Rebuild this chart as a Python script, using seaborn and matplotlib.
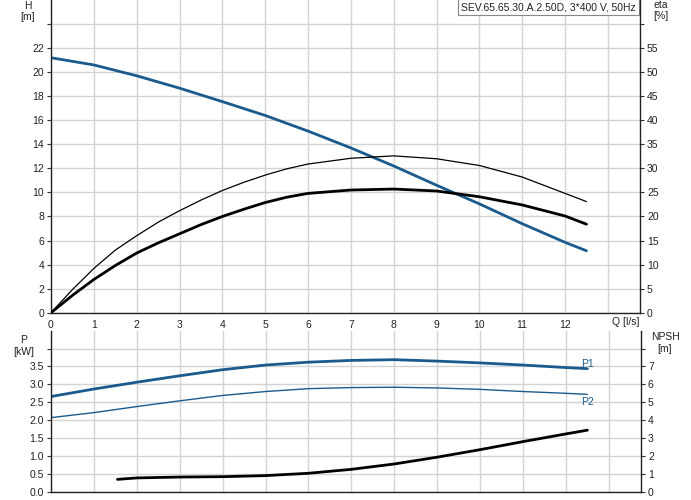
import matplotlib
matplotlib.use("Agg")
import matplotlib.pyplot as plt
import seaborn as sns
import pandas as pd

# ---- data ----
q = [0, 1, 2, 3, 4, 5, 6, 7, 8, 9, 10, 11, 12, 12.5]
head = [21.2, 20.6, 19.7, 18.67, 17.55, 16.4, 15.1, 13.7, 12.2, 10.6, 9.05, 7.4, 5.85, 5.15]
q_eta = [0, 0.5, 1, 1.5, 2, 2.5, 3, 3.5, 4, 4.5, 5, 5.5, 6, 7, 8, 9, 10, 11, 12, 12.5]
eta_thin = [0, 4.8, 9.2, 13.0, 16.0, 18.8, 21.2, 23.4, 25.4, 27.1, 28.6, 29.9, 30.9,
            32.1, 32.6, 32.0, 30.6, 28.2, 24.8, 23.1]
eta_thick = [0, 3.6, 6.9, 9.8, 12.4, 14.5, 16.4, 18.3, 20.0, 21.5, 22.9, 24.0, 24.8,
             25.5, 25.7, 25.3, 24.1, 22.4, 20.1, 18.4]
p1 = [2.66, 2.87, 3.06, 3.24, 3.41, 3.54, 3.62, 3.67, 3.69, 3.65, 3.60, 3.54, 3.47, 3.44]
p2 = [2.07, 2.21, 2.38, 2.54, 2.69, 2.80, 2.88, 2.91, 2.92, 2.90, 2.86, 2.80, 2.75, 2.72]
q_npsh = [1.55, 2, 3, 4, 5, 6, 7, 8, 9, 10, 11, 12, 12.5]
npsh = [0.69, 0.77, 0.82, 0.84, 0.90, 1.03, 1.25, 1.55, 1.93, 2.35, 2.80, 3.23, 3.44]

title = "SEV.65.65.30.A.2.50D, 3*400 V, 50Hz"
h_ticks = list(range(0, 25, 2))
h_labels = [str(v) for v in range(0, 23, 2)] + [""]
eta_ticks = list(range(0, 61, 5))
eta_labels = [str(v) for v in range(0, 56, 5)] + [""]
p_ticks = [0.0, 0.5, 1.0, 1.5, 2.0, 2.5, 3.0, 3.5, 4.0]
p_labels = ["0.0", "0.5", "1.0", "1.5", "2.0", "2.5", "3.0", "3.5", ""]
n_ticks = list(range(0, 9))
n_labels = [str(v) for v in range(0, 8)] + [""]
q_ticks = list(range(0, 14))
q_labels = [str(v) for v in range(0, 13)] + [""]

BLUE = "#1b5a8c"
GRID = "#d3d3d3"
FS = 7.5

sns.set_theme(style="white")
plt.rcParams["font.family"] = ["Liberation Sans", "DejaVu Sans"]

df_h = pd.DataFrame({"Q": q, "H": head})
df_eta = pd.DataFrame({"Q": q_eta, "eta_thin": eta_thin, "eta_thick": eta_thick})
df_p = pd.DataFrame({"Q": q, "P1": p1, "P2": p2})
df_n = pd.DataFrame({"Q": q_npsh, "NPSH": npsh})

fig = plt.figure(figsize=(6.91, 5.00), dpi=100)
W, Hh = 691, 500
ax = fig.add_axes([51 / W, 1 - 312.7 / Hh, (640 - 51) / W, 312.7 / Hh])
axe = ax.twinx()
bx = fig.add_axes([51 / W, 8.3 / Hh, (641 - 51) / W, (491.7 - 330.7) / Hh])
bxn = bx.twinx()

xmax = 13.75

def style(a, yt, yl, ylim):
    a.set_xlim(0, xmax)
    a.set_ylim(*ylim)
    a.set_yticks(yt)
    a.set_yticklabels(yl, fontsize=FS, color="#222222")
    a.set_xticks(q_ticks)
    a.grid(True, color=GRID, linewidth=1)
    a.set_axisbelow(True)
    a.tick_params(axis="both", direction="out", length=3, width=0.8, color="#333333", pad=2)
    for s in ["top", "right"]:
        a.spines[s].set_visible(False)
    for s in ["left", "bottom"]:
        a.spines[s].set_color("#222222")
        a.spines[s].set_linewidth(1)

style(ax, h_ticks, h_labels, (0, 26))
ax.set_xticklabels(q_labels, fontsize=FS, color="#222222")
style(bx, p_ticks, p_labels, (0, 4.5))
bx.set_xticklabels([])

for a, yt, yl, ylim in [(axe, eta_ticks, eta_labels, (0, 65)), (bxn, n_ticks, n_labels, (0, 9))]:
    a.set_ylim(*ylim)
    a.set_yticks(yt)
    a.set_yticklabels(yl, fontsize=FS, color="#222222")
    a.tick_params(axis="y", direction="out", length=3, width=0.8, color="#333333", pad=2)
    for s in ["top", "left", "bottom"]:
        a.spines[s].set_visible(False)
    a.spines["right"].set_color("#222222")
    a.spines["right"].set_linewidth(1)
    a.grid(False)

# curves
sns.lineplot(data=df_h, x="Q", y="H", ax=ax, color=BLUE, linewidth=2)
sns.lineplot(data=df_eta, x="Q", y="eta_thin", ax=axe, color="black", linewidth=0.9)
sns.lineplot(data=df_eta, x="Q", y="eta_thick", ax=axe, color="black", linewidth=2)
sns.lineplot(data=df_p, x="Q", y="P1", ax=bx, color=BLUE, linewidth=2)
sns.lineplot(data=df_p, x="Q", y="P2", ax=bx, color=BLUE, linewidth=1)
sns.lineplot(data=df_n, x="Q", y="NPSH", ax=bxn, color="black", linewidth=2)
for a in (ax, axe, bx, bxn):
    a.set_xlabel("")
    a.set_ylabel("")
    a.set_xlim(0, xmax)

# labels
fig.text(28 / W, 1 - 6 / Hh, "H", ha="center", va="center", fontsize=FS, color="#222222")
fig.text(28 / W, 1 - 17 / Hh, "[m]", ha="center", va="center", fontsize=FS, color="#222222")
fig.text(661 / W, 1 - 5 / Hh, "eta", ha="center", va="center", fontsize=FS, color="#222222")
fig.text(661 / W, 1 - 16 / Hh, "[%]", ha="center", va="center", fontsize=FS, color="#222222")
fig.text(24 / W, 1 - 340 / Hh, "P", ha="center", va="center", fontsize=FS, color="#222222")
fig.text(24 / W, 1 - 352 / Hh, "[kW]", ha="center", va="center", fontsize=FS, color="#222222")
fig.text(665 / W, 1 - 337 / Hh, "NPSH", ha="center", va="center", fontsize=FS, color="#222222")
fig.text(665 / W, 1 - 349 / Hh, "[m]", ha="center", va="center", fontsize=FS, color="#222222")
fig.text(612 / W, 1 - 322 / Hh, "Q [l/s]", ha="left", va="center", fontsize=FS, color="#222222")
bx.text(12.35, p1[-1] + 0.12, "P1", ha="left", va="center", fontsize=FS, color=BLUE)
bx.text(12.35, p2[-1] - 0.22, "P2", ha="left", va="center", fontsize=FS, color=BLUE)

ax.text(0.993, 0.993, title, transform=ax.transAxes, ha="right", va="top", fontsize=FS,
        color="#222222",
        bbox=dict(boxstyle="square,pad=0.3", facecolor="white", edgecolor="#888888", linewidth=0.8))

fig.savefig("out.png", dpi=100)
